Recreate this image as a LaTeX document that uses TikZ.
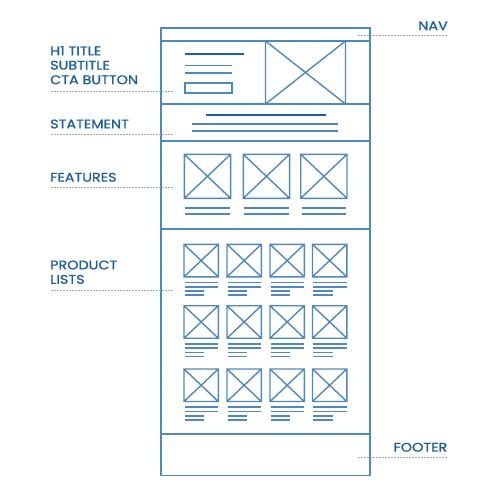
\documentclass[tikz,border=0pt]{standalone}
\usepackage{fontspec}
\setmainfont{Poppins}
\newfontfamily\tagfont{Poppins}[FakeStretch=1.15,FakeBold=1.2]
\definecolor{wire}{HTML}{4F88BD}
\definecolor{ink}{HTML}{1D5F9E}
\definecolor{lead}{HTML}{A8A8A8}
\tikzset{
  wire/.style={draw=wire,line width=1.4pt},
  textline/.style={draw=wire,line width=1.6pt},
  leader/.style={draw=lead,line width=0.5pt,dash pattern=on 2pt off 1pt},
  tag/.style={font=\tagfont\fontsize{12.5}{14}\selectfont,text=ink,inner sep=0pt}
}
% crossed image placeholder: x1, y1, x2, y2
\newcommand{\crossbox}[4]{\draw[wire] (#1,#2) rectangle (#3,#4) (#1,#2) -- (#3,#4) (#1,#4) -- (#3,#2);}
\begin{document}
\begin{tikzpicture}[x=1pt,y=-1pt]
\useasboundingbox (0,0) rectangle (500,500);

% Page frame and section dividers
\draw[wire] (161,28) rectangle (370,475.5);
\foreach \y in {41,104,141,229,434} {
  \draw[wire] (161,\y) -- (370,\y);
}

% Hero: title, subtitle, button, image
\draw[draw=ink,line width=2.2pt] (185,54) -- (244,54);
\draw[textline] (185,65.7) -- (232,65.7);
\draw[textline] (185,73) -- (232,73);
\draw[wire] (185,83) rectangle (232,93);
\crossbox{265.5}{41}{345.5}{104}

% Statement
\draw[draw=ink,line width=1.9pt] (206,115) -- (326,115);
\draw[textline] (192,123.7) -- (338,123.7);
\draw[textline] (192,130.7) -- (338,130.7);

% Features
\foreach \x in {184.3,243.3,300.7} {
  \crossbox{\x}{154.3}{\x+46.3}{198.3}
  \draw[textline] (\x+1,207.7) -- (\x+45.5,207.7);
  \draw[textline] (\x+1,214) -- (\x+45.5,214);
}

% Product lists
\foreach \y in {244.3,305.7,369} {
  \foreach \x in {184,227,270,312.5} {
    \crossbox{\x}{\y}{\x+34.3}{\y+32.5}
    \draw[textline] (\x+0.5,\y+38.1) -- (\x+34,\y+38.1);
    \draw[textline] (\x+0.5,\y+42.4) -- (\x+34,\y+42.4);
    \draw[textline] (\x+0.5,\y+46.7) -- (\x+20,\y+46.7);
    \draw[textline] (\x+0.5,\y+50.8) -- (\x+20,\y+50.8);
  }
}

% Labels
\node[tag,anchor=west] (h1) at (50,50.7) {H1 TITLE};
\node[tag,anchor=west] (sub) at (50,65.2) {SUBTITLE};
\node[tag,anchor=west] (cta) at (50,79.8) {CTA BUTTON};
\node[tag,anchor=west] (stmt) at (50,124) {STATEMENT};
\node[tag,anchor=west] (feat) at (50,177.3) {FEATURES};
\node[tag,anchor=west] (prod) at (50,265) {PRODUCT};
\node[tag,anchor=west] (lists) at (50,279.4) {LISTS};
\node[tag,anchor=east] (nav) at (448,25.7) {NAV};
\node[tag,anchor=east] (foot) at (447.5,447.3) {FOOTER};

% Leader lines
\coordinate (heroL) at (51,91);   \coordinate (heroR) at (173,91);
\coordinate (stmtL) at (51,134.3); \coordinate (stmtR) at (173,134.3);
\coordinate (featL) at (51,187.3); \coordinate (featR) at (173,187.3);
\coordinate (prodL) at (51,290);  \coordinate (prodR) at (173,290);
\coordinate (navL) at (358,35);   \coordinate (navR) at (448,35);
\coordinate (footL) at (358,457.3); \coordinate (footR) at (448,457.3);
\foreach \a/\b in {heroL/heroR,stmtL/stmtR,featL/featR,prodL/prodR,navL/navR,footL/footR} {
  \draw[leader] (\a) -- (\b);
}

\end{tikzpicture}
\end{document}
